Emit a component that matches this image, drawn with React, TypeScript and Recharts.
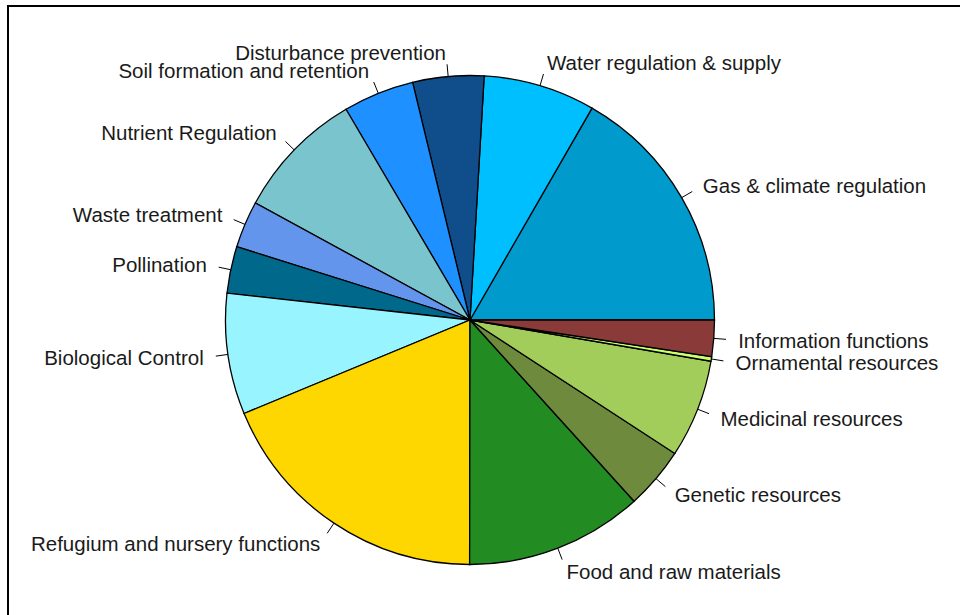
import React from 'react';
import { PieChart, Pie, Cell } from 'recharts';

// slice order follows the reference: counter-clockwise from 3 o'clock
const categories = [
  'Gas & climate regulation',
  'Water regulation & supply',
  'Disturbance prevention',
  'Soil formation and retention',
  'Nutrient Regulation',
  'Waste treatment',
  'Pollination',
  'Biological Control',
  'Refugium and nursery functions',
  'Food and raw materials',
  'Genetic resources',
  'Medicinal resources',
  'Ornamental resources',
  'Information functions',
];

const shares = [16.7, 7.4, 4.7, 4.7, 8.6, 3.1, 3.1, 8.0, 18.75, 11.75, 4.1, 6.5, 0.3, 2.4];

const colors = [
  '#009ACD', '#00BFFF', '#104E8B', '#1E90FF', '#7AC5CD', '#6495ED', '#00688B',
  '#98F5FF', '#FFD700', '#228B22', '#6E8B3D', '#A2CD5A', '#CAFF70', '#8B3A3A',
];

const data = categories.map((name, i) => ({ name, value: shares[i] }));

const RADIAN = Math.PI / 180;

const renderLabel = (props: any) => {
  const { cx, cy, midAngle, outerRadius, name } = props;
  const c = Math.cos(midAngle * RADIAN);
  const s = Math.sin(midAngle * RADIAN);
  const x1 = cx + outerRadius * c;
  const y1 = cy - outerRadius * s;
  const x2 = cx + outerRadius * 1.05 * c;
  const y2 = cy - outerRadius * 1.05 * s;
  const tx = cx + outerRadius * 1.1 * c;
  const ty = cy - outerRadius * 1.1 * s;
  return (
    <g>
      <line x1={x1} y1={y1} x2={x2} y2={y2} stroke="#000" strokeWidth={1} />
      <text
        x={tx}
        y={ty}
        fill="#1a1a1a"
        fontSize={20.5}
        fontFamily="Liberation Sans, Arial, sans-serif"
        textAnchor={c >= 0 ? 'start' : 'end'}
        dominantBaseline="central"
      >
        {name}
      </text>
    </g>
  );
};

export default function App() {
  return (
    <div style={{ position: 'absolute', left: 0, top: 0, width: 960, height: 615, overflow: 'hidden', background: '#fff' }}>
      <div
        style={{
          position: 'absolute',
          left: 7,
          top: 5,
          width: 953,
          height: 610,
          boxSizing: 'border-box',
          borderTop: '2px solid #000',
          borderLeft: '2px solid #000',
        }}
      />
      <div style={{ position: 'absolute', left: 0, top: 0 }}>
        <PieChart width={960} height={615} margin={{ top: 0, right: 0, bottom: 0, left: 0 }}>
          <Pie
            data={data}
            dataKey="value"
            nameKey="name"
            cx={470}
            cy={320}
            outerRadius={244.5}
            startAngle={0}
            endAngle={360}
            stroke="#000"
            strokeWidth={1.3}
            label={renderLabel}
            labelLine={false}
            isAnimationActive={false}
          >
            {data.map((d, i) => (
              <Cell key={d.name} fill={colors[i]} />
            ))}
          </Pie>
        </PieChart>
      </div>
    </div>
  );
}
